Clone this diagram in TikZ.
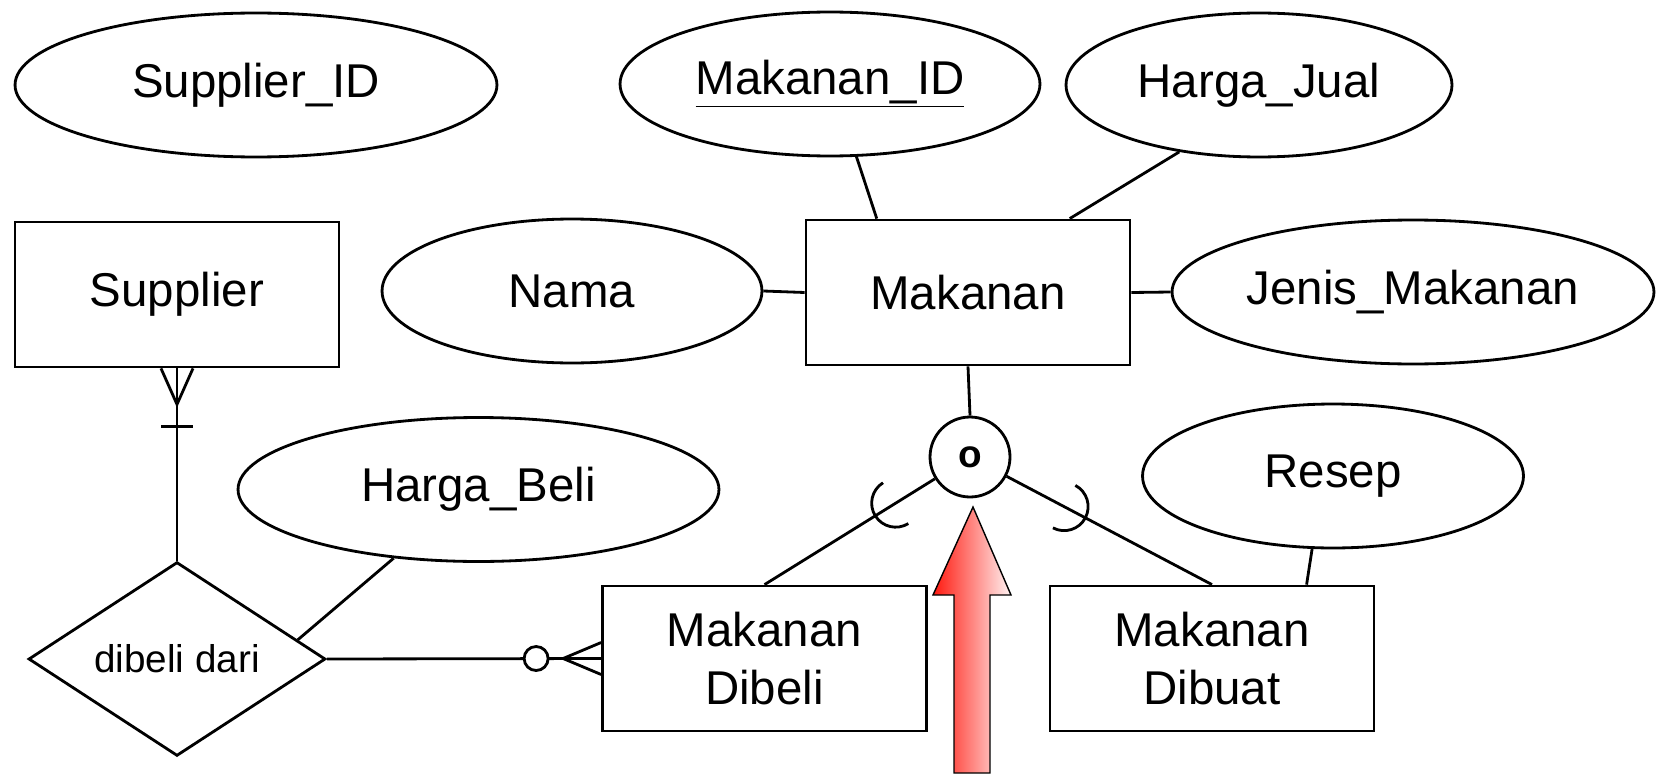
\documentclass[tikz,border=0pt]{standalone}
\usepackage{fontspec}
\setmainfont{Liberation Sans}
\usetikzlibrary{shapes.geometric,calc}
\definecolor{arrowred}{RGB}{255,25,15}
\definecolor{arrowpink}{RGB}{255,242,242}
\begin{document}
\begin{tikzpicture}[
		x=0.02cm, y=-0.02cm,
		line width=1.6pt,
		every node/.style={
			font=\fontsize{27}{33}\selectfont,
			inner sep=0pt,
		},
		entity/.style={
			draw, rectangle, align=center,
			minimum width=6.48cm, minimum height=2.9cm,
		},
		attribute/.style={
			draw, ellipse, minimum height=2.88cm,
		},
		relation/.style={
			draw, diamond, minimum width=5.94cm, minimum height=2.9cm,
			font=\fontsize{22}{26}\selectfont,
		},
		disjoint/.style={
			draw, circle, minimum size=1.6cm,
			font=\fontsize{22}{26}\selectfont\bfseries,
		},
		subset/.pic={
			\draw (0,24) arc[start angle=90, end angle=-90, radius=24];
		},
	]
		\useasboundingbox (0,0) rectangle (1659,777);
		\node[attribute, minimum width=9.64cm] (supid) at (256,85) {Supplier\_ID};
		\node[attribute, minimum width=8.4cm] (makid) at (830,84) {\underline{Makanan\_ID}};
		\node[attribute, minimum width=7.72cm] (hjual) at (1259,85) {Harga\_Jual};
		\node[entity] (supplier) at (177,294.5) {Supplier};
		\node[attribute, minimum width=7.6cm] (nama) at (572,291) {Nama};
		\node[entity] (makanan) at (968,292.5) {Makanan};
		\node[attribute, minimum width=9.64cm] (jenis) at (1413,292) {Jenis\_Makanan};
		\node[disjoint] (disj) at (970,457) {o};
		\node[attribute, minimum width=9.62cm] (hbeli) at (478.5,489.5) {Harga\_Beli};
		\node[attribute, minimum width=7.62cm] (resep) at (1333,476) {Resep};
		\node[relation] (dibelidari) at (177,659) {dibeli dari};
		\node[entity] (dibeli) at (764.5,658.5) {Makanan\\Dibeli};
		\node[entity] (dibuat) at (1212,658.5) {Makanan\\Dibuat};

		\draw (makid.290) -- (makanan.141);
		\draw (hjual.220) -- (makanan.36);
		\draw (nama.east) -- (makanan.west);
		\draw (makanan.east) -- (jenis.west);
		\draw (makanan.south) -- (disj.north);
		\draw (disj) -- (dibeli.north) pic[pos=0.23, sloped, allow upside down] {subset};
		\draw (disj) -- (dibuat.north) pic[pos=0.28, sloped, allow upside down] {subset};
		\draw (resep.254) -- (dibuat.38);
		\draw (hbeli.219) -- (dibelidari.9);

		\draw (supplier.south) -- (dibelidari.north);
		\draw ($(supplier.south)+(-16,0)$) -- ($(supplier.south)+(0,36)$) -- ($(supplier.south)+(16,0)$);
		\draw ($(supplier.south)+(-16,58)$) -- ($(supplier.south)+(16,58)$);

		\draw (dibelidari.east) -- (dibeli.west);
		\draw ($(dibeli.west)+(0,-16)$) -- ($(dibeli.west)+(-38,0)$) -- ($(dibeli.west)+(0,16)$);
		\draw[fill=white] ($(dibeli.west)+(-65,0)$) circle[radius=12];

		\path[draw, line width=0.8pt, left color=arrowred, right color=arrowpink]
			(954,773) -- (954,595) -- (933,595) -- (973,507) -- (1011,595) -- (990,595) -- (990,773) -- cycle;
	\end{tikzpicture}
\end{document}
